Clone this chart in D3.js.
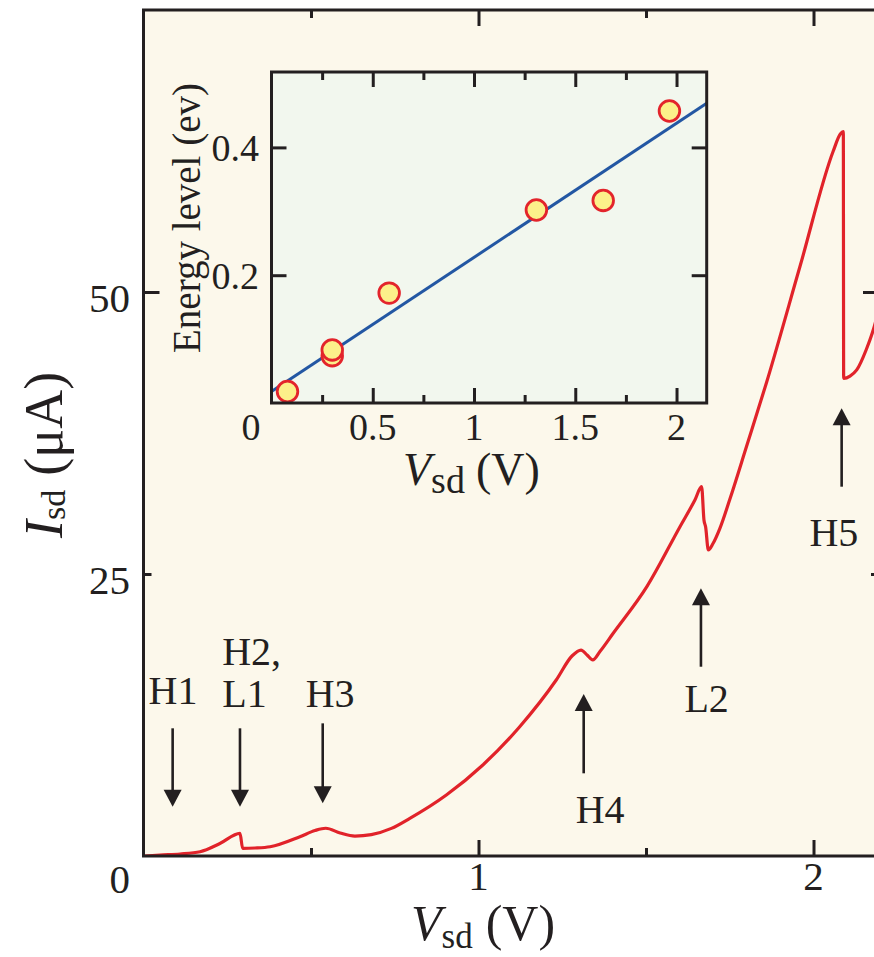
<!DOCTYPE html>
<html>
<head>
<meta charset="utf-8">
<script src="https://cdn.jsdelivr.net/npm/d3@7"></script>
<style>
  html, body { margin: 0; padding: 0; background: #ffffff; }
  svg { display: block; }
  text { font-family: "Liberation Serif", "DejaVu Serif", serif; fill: #231f20; }
</style>
</head>
<body>
<svg id="chart" width="874" height="957"></svg>
<script>
// ---------------- data ----------------
// main I-V curve (Vsd in V, Isd in µA)
const Vsd = [0.004, 0.049, 0.109, 0.169, 0.228, 0.288, 0.296, 0.333, 0.378, 0.467,
             0.512, 0.544, 0.587, 0.631, 0.680, 0.740, 0.795, 0.904, 1.013, 1.123,
             1.232, 1.279, 1.306, 1.324, 1.341, 1.363, 1.401, 1.503, 1.601, 1.646,
             1.666, 1.673, 1.678, 1.686, 1.700, 1.720, 1.750, 1.800, 1.860, 1.960,
             2.059, 2.080, 2.089, 2.090, 2.109, 2.129, 2.157, 2.181, 2.199];
const Isd = [0.00, 0.09, 0.18, 0.38, 1.11, 2.01, 0.68, 0.71, 0.82, 1.71,
             2.26, 2.46, 2.04, 1.77, 1.90, 2.45, 3.34, 5.41, 8.07, 11.46,
             15.60, 17.73, 18.26, 17.82, 17.38, 18.15, 19.70, 23.90, 29.17, 31.56,
             32.74, 29.79, 29.17, 27.13, 27.70, 29.00, 31.60, 36.30, 42.00, 52.30,
             62.50, 64.00, 64.21, 42.35, 42.55, 43.09, 44.86, 46.90, 49.00];

// main axes ticks
const xTicksMajor = [1, 2];
const xTicksMinor = [0.5, 1.5];
const xTickLabels = ["1", "2"];
const yTicksMajor = [50];
const yTicksMinor = [25];
const yTickValues = [0, 25, 50];
const yTickLabels = ["0", "25", "50"];

// annotations (arrow x, arrow tail, arrow tip in data units)
const annNames   = ["H1", "H2", "H3", "H4", "L2", "H5"];
const annV       = [0.087, 0.288, 0.535, 1.314, 1.664, 2.084];
const annTail    = [11.32, 11.32, 11.76, 7.33, 16.78, 32.74];
const annTip     = [4.37, 4.37, 4.67, 14.36, 23.73, 39.69];
// annotation text labels
const labelText  = ["H1", "H2,", "L1", "H3", "H4", "L2", "H5"];
const labelV     = [0.088, 0.235, 0.235, 0.557, 1.363, 1.681, 2.061];
const labelI     = [13.48, 16.93, 13.21, 13.24, 2.95, 12.79, 27.48];
const labelAnchor= ["middle", "start", "start", "middle", "middle", "middle", "middle"];

// inset: energy level vs Vsd
const insetV = [0.079, 0.300, 0.300, 0.581, 1.308, 1.638, 1.965];
const insetE = [0.018, 0.074, 0.083, 0.172, 0.302, 0.317, 0.457];
const fitV = [0, 2.149];
const fitE = [0.018, 0.469];
const insetXTicksMajor = [0.5, 1, 1.5, 2];
const insetXTicksMinor = [0.25, 0.75, 1.25, 1.75];
const insetXTickLabels = ["0.5", "1", "1.5", "2"];
const insetYTicks = [0.2, 0.4];
const insetYTickLabels = ["0.2", "0.4"];

// ---------------- layout ----------------
const svg = d3.select("#chart");
const ink = "#231f20";
const M = { left: 143.5, right: 879, top: 10, bottom: 856 };
const x = d3.scaleLinear().domain([0, 2.1955]).range([M.left, M.right]);
const y = d3.scaleLinear().domain([0, 75]).range([M.bottom, M.top]);

// background
svg.append("rect").attr("x", M.left).attr("y", M.top)
  .attr("width", M.right - M.left).attr("height", M.bottom - M.top)
  .attr("fill", "#fcf8eb");

svg.append("defs").append("clipPath").attr("id", "clipMain")
  .append("rect").attr("x", M.left).attr("y", M.top)
  .attr("width", M.right - M.left).attr("height", M.bottom - M.top);

// curve
const curveData = Vsd.map((v, i) => [v, Isd[i]]);
svg.append("path")
  .datum(curveData)
  .attr("clip-path", "url(#clipMain)")
  .attr("fill", "none")
  .attr("stroke", "#e1232a")
  .attr("stroke-width", 3.2)
  .attr("stroke-linejoin", "round")
  .attr("d", d3.line().x(d => x(d[0])).y(d => y(d[1])).curve(d3.curveMonotoneX));

// axes ticks (inward)
function styleAxis(g) {
  g.select(".domain").remove();
  g.selectAll(".tick line").attr("stroke", ink).attr("stroke-width", 3);
  g.selectAll(".tick text").remove();
}
svg.append("g").attr("transform", `translate(0,${M.bottom})`)
  .call(d3.axisBottom(x).tickValues(xTicksMajor).tickSize(-16)).call(styleAxis);
svg.append("g").attr("transform", `translate(0,${M.bottom})`)
  .call(d3.axisBottom(x).tickValues(xTicksMinor).tickSize(-8)).call(styleAxis);
svg.append("g").attr("transform", `translate(0,${M.top})`)
  .call(d3.axisTop(x).tickValues(xTicksMajor).tickSize(-16)).call(styleAxis);
svg.append("g").attr("transform", `translate(0,${M.top})`)
  .call(d3.axisTop(x).tickValues(xTicksMinor).tickSize(-8)).call(styleAxis);
svg.append("g").attr("transform", `translate(${M.left},0)`)
  .call(d3.axisLeft(y).tickValues(yTicksMajor).tickSize(-16)).call(styleAxis);
svg.append("g").attr("transform", `translate(${M.left},0)`)
  .call(d3.axisLeft(y).tickValues(yTicksMinor).tickSize(-8)).call(styleAxis);
svg.append("g").attr("transform", `translate(${M.right},0)`)
  .call(d3.axisRight(y).tickValues(yTicksMajor).tickSize(-16)).call(styleAxis);
svg.append("g").attr("transform", `translate(${M.right},0)`)
  .call(d3.axisRight(y).tickValues(yTicksMinor).tickSize(-8)).call(styleAxis);

// frame
svg.append("rect").attr("x", M.left).attr("y", M.top)
  .attr("width", M.right - M.left).attr("height", M.bottom - M.top)
  .attr("fill", "none").attr("stroke", ink).attr("stroke-width", 3);

// tick labels
svg.selectAll(".xlab").data(xTicksMajor).enter().append("text")
  .attr("x", d => x(d)).attr("y", 890).attr("text-anchor", "middle")
  .attr("font-size", 41).text((d, i) => xTickLabels[i]);
svg.selectAll(".ylab").data(yTickValues).enter().append("text")
  .attr("x", 130).attr("y", d => d === 0 ? 893 : y(d) + 20)
  .attr("text-anchor", "end").attr("font-size", 41)
  .text((d, i) => yTickLabels[i]);

// axis titles
const xt = svg.append("text").attr("x", 411).attr("y", 940).attr("font-size", 50);
xt.append("tspan").attr("font-style", "italic").text("V");
xt.append("tspan").attr("font-size", 35).attr("dy", 8).text("sd");
xt.append("tspan").attr("dy", -8).attr("dx", 13).text("(V)");

const yt = svg.append("text").attr("transform", "translate(62,538) rotate(-90)").attr("font-size", 54);
yt.append("tspan").attr("font-style", "italic").text("I");
yt.append("tspan").attr("font-size", 34).attr("dy", 3).text("sd");
yt.append("tspan").attr("dy", -3).attr("dx", 14).text("(μA)");

// annotation arrows
const headW = 18, headH = 17;
annV.forEach((v, i) => {
  const px = x(v), pTail = y(annTail[i]), pTip = y(annTip[i]);
  const dir = pTip > pTail ? 1 : -1;
  svg.append("line").attr("x1", px).attr("x2", px)
    .attr("y1", pTail).attr("y2", pTip - dir * headH * 0.8)
    .attr("stroke", ink).attr("stroke-width", 2.6);
  svg.append("path")
    .attr("d", `M${px},${pTip} L${px - headW / 2},${pTip - dir * headH} L${px + headW / 2},${pTip - dir * headH} Z`)
    .attr("fill", ink);
});
labelText.forEach((t, i) => {
  svg.append("text").attr("x", x(labelV[i])).attr("y", y(labelI[i]))
    .attr("text-anchor", labelAnchor[i]).attr("font-size", 40).text(t);
});

// ---------------- inset ----------------
const I = { left: 271.5, right: 706.7, top: 72, bottom: 403 };
const ix = d3.scaleLinear().domain([0, 2.149]).range([I.left, I.right]);
const iy = d3.scaleLinear().domain([0, 0.518]).range([I.bottom, I.top]);

svg.append("rect").attr("x", I.left).attr("y", I.top)
  .attr("width", I.right - I.left).attr("height", I.bottom - I.top)
  .attr("fill", "#f2f7ee");

svg.append("g").attr("transform", `translate(0,${I.bottom})`)
  .call(d3.axisBottom(ix).tickValues(insetXTicksMajor).tickSize(-15)).call(styleAxis);
svg.append("g").attr("transform", `translate(0,${I.bottom})`)
  .call(d3.axisBottom(ix).tickValues(insetXTicksMinor).tickSize(-8)).call(styleAxis);
svg.append("g").attr("transform", `translate(0,${I.top})`)
  .call(d3.axisTop(ix).tickValues(insetXTicksMajor).tickSize(-15)).call(styleAxis);
svg.append("g").attr("transform", `translate(0,${I.top})`)
  .call(d3.axisTop(ix).tickValues(insetXTicksMinor).tickSize(-8)).call(styleAxis);
svg.append("g").attr("transform", `translate(${I.left},0)`)
  .call(d3.axisLeft(iy).tickValues(insetYTicks).tickSize(-15)).call(styleAxis);
svg.append("g").attr("transform", `translate(${I.right},0)`)
  .call(d3.axisRight(iy).tickValues(insetYTicks).tickSize(-15)).call(styleAxis);

// fit line
svg.append("path")
  .datum(fitV.map((v, i) => [v, fitE[i]]))
  .attr("fill", "none").attr("stroke", "#2357a3").attr("stroke-width", 3)
  .attr("d", d3.line().x(d => ix(d[0])).y(d => iy(d[1])));

// points
svg.selectAll(".pt").data(insetV.map((v, i) => [v, insetE[i]])).enter()
  .append("circle")
  .attr("cx", d => ix(d[0])).attr("cy", d => iy(d[1])).attr("r", 10.3)
  .attr("fill", "#fcf08a").attr("stroke", "#e3242b").attr("stroke-width", 2.8);

svg.append("rect").attr("x", I.left).attr("y", I.top)
  .attr("width", I.right - I.left).attr("height", I.bottom - I.top)
  .attr("fill", "none").attr("stroke", ink).attr("stroke-width", 3);

// inset tick labels
svg.selectAll(".ixlab").data(insetXTicksMajor).enter().append("text")
  .attr("x", d => ix(d)).attr("y", 440).attr("text-anchor", "middle")
  .attr("font-size", 38).text((d, i) => insetXTickLabels[i]);
svg.append("text").attr("x", 251).attr("y", 440).attr("text-anchor", "middle")
  .attr("font-size", 38).text("0");
svg.selectAll(".iylab").data(insetYTicks).enter().append("text")
  .attr("x", 259).attr("y", d => iy(d) + 14).attr("text-anchor", "end")
  .attr("font-size", 38).text((d, i) => insetYTickLabels[i]);

// inset titles
const ixt = svg.append("text").attr("x", 403).attr("y", 485).attr("font-size", 46);
ixt.append("tspan").attr("font-style", "italic").text("V");
ixt.append("tspan").attr("font-size", 38).attr("dy", 8).text("sd");
ixt.append("tspan").attr("dy", -8).attr("dx", 11).text("(V)");

svg.append("text").attr("transform", "translate(200,218) rotate(-90)")
  .attr("text-anchor", "middle").attr("font-size", 39)
  .attr("fill", "#3a3637")
  .text("Energy level (ev)");
</script>
</body>
</html>
